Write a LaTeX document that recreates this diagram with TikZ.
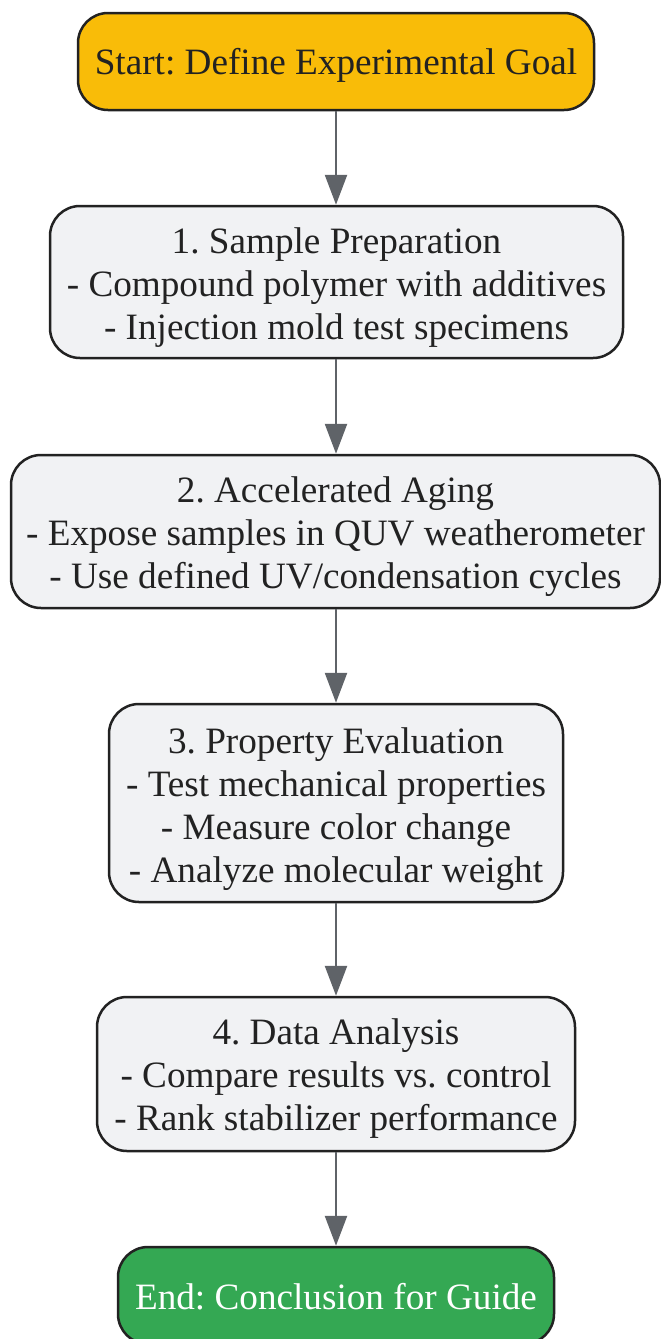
\documentclass[tikz,border=0pt]{standalone}
\usepackage{fontspec}
\setmainfont{Liberation Serif}
\usetikzlibrary{arrows.meta}
\definecolor{startc}{HTML}{F9BC08}
\definecolor{endc}{HTML}{34A853}
\definecolor{boxc}{HTML}{F1F2F4}
\definecolor{edgec}{HTML}{222222}
\definecolor{arrc}{HTML}{5F6368}
\tikzset{
  base/.style={draw=edgec, line width=2.5pt, rounded corners=30pt, inner sep=0pt},
  stepbox/.style={base, fill=boxc},
  startbox/.style={base, fill=startc},
  endbox/.style={base, fill=endc},
  txt/.style={align=center, inner sep=0pt, text=edgec, font=\fontsize{37.2}{43}\selectfont\frenchspacing},
  conn/.style={draw=arrc, line width=2.5pt, -{Triangle[width=22pt,length=30pt]}}
}
\begin{document}
\begin{tikzpicture}[x=1pt,y=-1pt]
\useasboundingbox (0,0) rectangle (661,1339);
\node[startbox, minimum width=516pt, minimum height=97pt] (s) at (336,61.5) {};
\node[txt] (ts) at ([yshift=-4pt]s.center) {Start: Define Experimental Goal};
\node[stepbox, minimum width=573pt, minimum height=152pt] (b1) at (336.5,282) {};
\node[txt] (t1) at ([yshift=-5.5pt]b1.center) {1. Sample Preparation\\- Compound polymer with additives\\- Injection mold test specimens};
\node[stepbox, minimum width=649pt, minimum height=153pt] (b2) at (335.5,531.5) {};
\node[txt] (t2) at ([yshift=-5pt]b2.center) {2. Accelerated Aging\\- Expose samples in QUV weatherometer\\- Use defined UV/condensation cycles};
\node[stepbox, minimum width=454pt, minimum height=198pt] (b3) at (336,803) {};
\node[txt] (t3) at ([yshift=-6pt]b3.center) {3. Property Evaluation\\- Test mechanical properties\\- Measure color change\\- Analyze molecular weight};
\node[stepbox, minimum width=478pt, minimum height=154pt] (b4) at (336,1074) {};
\node[txt] (t4) at ([yshift=-5pt]b4.center) {4. Data Analysis\\- Compare results vs. control\\- Rank stabilizer performance};
\node[endbox, minimum width=436pt, minimum height=97pt] (e) at (336,1295.5) {};
\node[txt, text=white] (te) at ([yshift=-1.5pt]e.center) {End: Conclusion for Guide};
\draw[conn] (s.south -| 336,0) -- (b1.north -| 336,0);
\draw[conn] (b1.south -| 336,0) -- (b2.north -| 336,0);
\draw[conn] (b2.south -| 336,0) -- (b3.north -| 336,0);
\draw[conn] (b3.south -| 336,0) -- (b4.north -| 336,0);
\draw[conn] (b4.south -| 336,0) -- (e.north -| 336,0);
\end{tikzpicture}
\end{document}
